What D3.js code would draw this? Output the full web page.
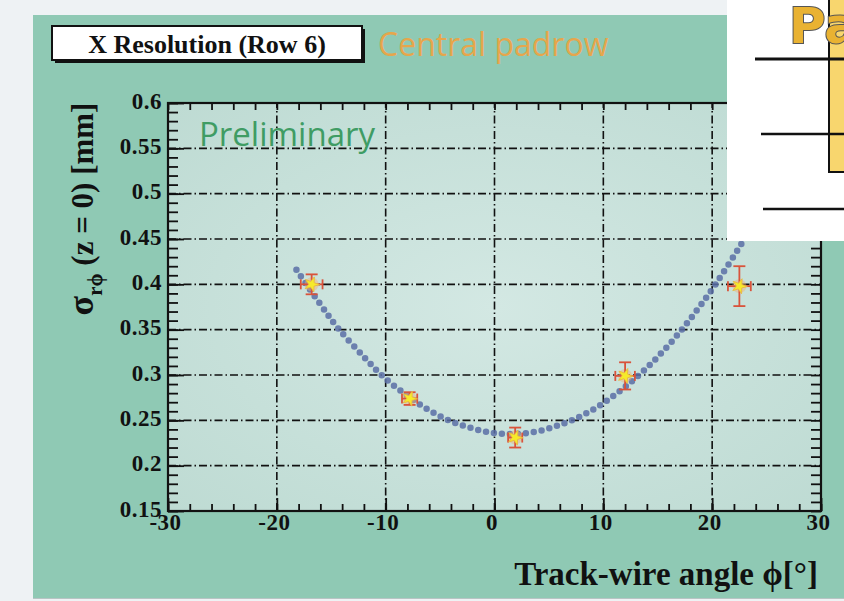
<!DOCTYPE html>
<meta charset="utf-8">
<style>
body { margin: 0; background: #eef2f4; }
.tick text { font-family: "Liberation Serif", serif; font-weight: bold; font-size: 23px; fill: #111; letter-spacing: 0.5px; }
.axis path { display: none; }
.axis line { stroke: #111; stroke-width: 1.8px; }
.grid line { stroke: #111; stroke-width: 1.6px; stroke-dasharray: 8,3,1.5,3; }
</style>
<body>
<script src="https://d3js.org/d3.v7.min.js"></script>
<script>
// measured points (angle in degrees, resolution in mm)
var angle = [-16.8, -7.8, 1.9, 12.0, 22.5];
var sigma = [0.400, 0.274, 0.231, 0.299, 0.398];
var angleErr = [1.0, 0.7, 0.65, 0.9, 1.05];
var sigmaErr = [0.011, 0.007, 0.011, 0.015, 0.022];

// fitted curve
var fitAngle = [-18.2, -16, -14.4, -12, -10.2, -8, -6, -4, -2, 0, 2, 4, 6, 8, 10, 12, 14, 16, 18, 20.3, 22.9, 25];
var fitSigma = [0.416, 0.378, 0.352, 0.320, 0.298, 0.277, 0.261, 0.249, 0.241, 0.236, 0.235, 0.238, 0.245, 0.255, 0.269, 0.287, 0.308, 0.333, 0.362, 0.400, 0.449, 0.493];

var xTicks = [-30, -20, -10, 0, 10, 20, 30];
var xTickLabels = ["-30", "-20", "-10", "0", "10", "20", "30"];
var yTicks = [0.15, 0.2, 0.25, 0.3, 0.35, 0.4, 0.45, 0.5, 0.55, 0.6];
var yTickLabels = ["0.15", "0.2", "0.25", "0.3", "0.35", "0.4", "0.45", "0.5", "0.55", "0.6"];

var width = 844, height = 601;
var svg = d3.select("body").append("svg")
    .attr("width", width)
    .attr("height", height);

var defs = svg.append("defs");
var rg = defs.append("radialGradient").attr("id", "plotbg").attr("cx", "50%").attr("cy", "50%").attr("r", "70%");
rg.append("stop").attr("offset", "0%").attr("stop-color", "#d3e8e3");
rg.append("stop").attr("offset", "100%").attr("stop-color", "#bedbd3");

// green panel
svg.append("rect").attr("x", 33).attr("y", 15).attr("width", width - 33).attr("height", 583)
    .attr("fill", "#8fc9b4");
svg.append("line").attr("x1", 33).attr("x2", width).attr("y1", 598.5).attr("y2", 598.5)
    .attr("stroke", "#b8c4c4").attr("stroke-width", 1);

var pL = 168, pR = 821, pT = 103, pB = 511;
var x = d3.scaleLinear().domain([-30, 30]).range([pL, pR]);
var y = d3.scaleLinear().domain([0.15, 0.6]).range([pB, pT]);

svg.append("rect").attr("x", pL).attr("y", pT).attr("width", pR - pL).attr("height", pB - pT)
    .attr("fill", "url(#plotbg)");

// grid
var grid = svg.append("g").attr("class", "grid");
grid.selectAll(".gx").data(xTicks.slice(1, -1)).enter().append("line")
    .attr("x1", function(d) { return x(d); }).attr("x2", function(d) { return x(d); })
    .attr("y1", pB).attr("y2", pT);
grid.selectAll(".gy").data(yTicks.slice(1, -1)).enter().append("line")
    .attr("y1", function(d) { return y(d); }).attr("y2", function(d) { return y(d); })
    .attr("x1", pL).attr("x2", pR);

// minor ticks every 2 degrees / 0.01 mm
var xMinor = d3.range(-30, 30.01, 2);
var yMinor = d3.range(0.15, 0.6001, 0.01);

svg.append("g").attr("class", "axis").attr("transform", "translate(0," + pB + ")")
    .call(d3.axisBottom(x).tickValues(xMinor).tickSize(-7).tickFormat(""));
svg.append("g").attr("class", "axis").attr("transform", "translate(0," + pT + ")")
    .call(d3.axisTop(x).tickValues(xMinor).tickSize(-7).tickFormat(""));
svg.append("g").attr("class", "axis").attr("transform", "translate(" + pL + ",0)")
    .call(d3.axisLeft(y).tickValues(yMinor).tickSize(-10).tickFormat(""));
svg.append("g").attr("class", "axis").attr("transform", "translate(" + pR + ",0)")
    .call(d3.axisRight(y).tickValues(yMinor).tickSize(-10).tickFormat(""));

// major ticks + labels
svg.append("g").attr("class", "axis").attr("transform", "translate(0," + pB + ")")
    .call(d3.axisBottom(x).tickValues(xTicks).tickSize(-13).tickPadding(3)
        .tickFormat(function(d, i) { return xTickLabels[i]; }))
    .selectAll("text").attr("dx", -3);
svg.append("g").attr("class", "axis").attr("transform", "translate(" + pL + ",0)")
    .call(d3.axisLeft(y).tickValues(yTicks).tickSize(-16).tickPadding(6)
        .tickFormat(function(d, i) { return yTickLabels[i]; }))
    .selectAll("text").attr("dy", "0.22em");

// frame
svg.append("rect").attr("x", pL).attr("y", pT).attr("width", pR - pL).attr("height", pB - pT)
    .attr("fill", "none").attr("stroke", "#111").attr("stroke-width", 2.2);

// fit curve
var line = d3.line()
    .x(function(d, i) { return x(fitAngle[i]); })
    .y(function(d, i) { return y(fitSigma[i]); })
    .curve(d3.curveCatmullRom);
svg.append("path").attr("d", line(fitAngle))
    .attr("fill", "none").attr("stroke", "#5a6ea6").attr("stroke-opacity", 0.85)
    .attr("stroke-width", 6.5).attr("stroke-linecap", "round").attr("stroke-dasharray", "0,8");

// points with error bars
var pts = svg.append("g").selectAll("g").data(angle).enter().append("g");
var red = "#d9533b";
pts.append("circle").attr("cx", function(d) { return x(d); }).attr("cy", function(d, i) { return y(sigma[i]); })
    .attr("r", 7).attr("fill", "#f4b070").attr("opacity", 0.45);
pts.append("line")
    .attr("x1", function(d, i) { return x(d - angleErr[i]); }).attr("x2", function(d, i) { return x(d + angleErr[i]); })
    .attr("y1", function(d, i) { return y(sigma[i]); }).attr("y2", function(d, i) { return y(sigma[i]); })
    .attr("stroke", red).attr("stroke-width", 1.8);
pts.append("line")
    .attr("x1", function(d) { return x(d); }).attr("x2", function(d) { return x(d); })
    .attr("y1", function(d, i) { return y(sigma[i] - sigmaErr[i]); }).attr("y2", function(d, i) { return y(sigma[i] + sigmaErr[i]); })
    .attr("stroke", red).attr("stroke-width", 1.8);
[-1, 1].forEach(function(s) {
    pts.append("line")
        .attr("x1", function(d) { return x(d) - 6; }).attr("x2", function(d) { return x(d) + 6; })
        .attr("y1", function(d, i) { return y(sigma[i] + s * sigmaErr[i]); }).attr("y2", function(d, i) { return y(sigma[i] + s * sigmaErr[i]); })
        .attr("stroke", red).attr("stroke-width", 1.8);
    pts.append("line")
        .attr("x1", function(d, i) { return x(d + s * angleErr[i]); }).attr("x2", function(d, i) { return x(d + s * angleErr[i]); })
        .attr("y1", function(d, i) { return y(sigma[i]) - 5; }).attr("y2", function(d, i) { return y(sigma[i]) + 5; })
        .attr("stroke", red).attr("stroke-width", 1.8);
});
pts.append("path")
    .attr("transform", function(d, i) { return "translate(" + x(d) + "," + y(sigma[i]) + ") rotate(20)"; })
    .attr("d", d3.symbol(d3.symbolStar).size(70))
    .attr("fill", "#f6ea2a").attr("stroke", "#e8b840").attr("stroke-width", 0.8);

// axis titles
svg.append("text").attr("x", 818).attr("y", 585).attr("text-anchor", "end")
    .style("font-family", "Liberation Serif, serif").style("font-weight", "bold").style("font-size", "33px")
    .attr("fill", "#111").text("Track-wire angle \u03d5[\u00b0]");

var yt = svg.append("text").attr("transform", "translate(93,209) rotate(-90)").attr("text-anchor", "middle")
    .style("font-family", "Liberation Serif, serif").style("font-weight", "bold").style("font-size", "31px")
    .attr("fill", "#111");
yt.append("tspan").style("font-size", "36px").text("\u03c3");
yt.append("tspan").attr("dy", 9).style("font-size", "21px").text("r\u03d5");
yt.append("tspan").attr("dy", -9).text(" (z = 0) [mm]");

// title box
svg.append("rect").attr("x", 55).attr("y", 29).attr("width", 310).attr("height", 34).attr("fill", "#111");
svg.append("rect").attr("x", 52).attr("y", 26).attr("width", 310).attr("height", 34)
    .attr("fill", "#fff").attr("stroke", "#111").attr("stroke-width", 2);
svg.append("text").attr("x", 207).attr("y", 53).attr("text-anchor", "middle")
    .style("font-family", "Liberation Serif, serif").style("font-weight", "bold").style("font-size", "26px")
    .attr("fill", "#111").text("X Resolution (Row 6)");

svg.append("text").attr("x", 378).attr("y", 56)
    .style("font-family", "Open Sans, sans-serif").style("font-size", "32px")
    .attr("fill", "#e6a64c").text("Central padrow");

svg.append("text").attr("x", 199).attr("y", 146)
    .style("font-family", "Open Sans, sans-serif").style("font-size", "33px")
    .attr("fill", "#3f9c64").text("Preliminary");

// white slide overlay at top right
svg.append("rect").attr("x", 727).attr("y", 0).attr("width", width - 727).attr("height", 241).attr("fill", "#fff");
svg.append("rect").attr("x", 829).attr("y", -3).attr("width", 30).attr("height", 175)
    .attr("fill", "#f8d66e").attr("stroke", "#111").attr("stroke-width", 2);
[[755, 59, 3], [761, 134, 2.5], [763, 209, 2.5]].forEach(function(l) {
    svg.append("line").attr("x1", l[0]).attr("x2", width).attr("y1", l[1]).attr("y2", l[1])
        .attr("stroke", "#111").attr("stroke-width", l[2]);
});
svg.append("text").attr("x", 789).attr("y", 43)
    .style("font-family", "DejaVu Sans, sans-serif").style("font-weight", "bold").style("font-size", "50px")
    .attr("fill", "#e9b232").attr("stroke", "#555").attr("stroke-width", 2).style("paint-order", "stroke")
    .text("Pad");
</script>
